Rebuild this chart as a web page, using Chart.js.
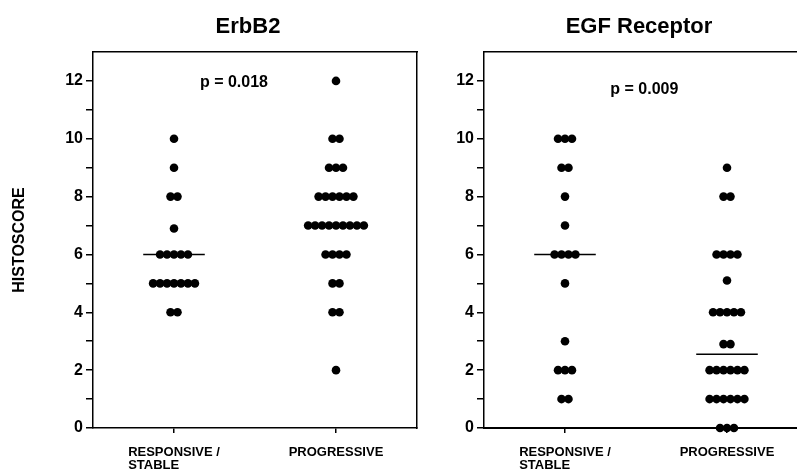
<!DOCTYPE html>
<html lang="en">
<head>
<meta charset="UTF-8">
<title>ErbB2 and EGF Receptor histoscores</title>
<script src="https://cdn.jsdelivr.net/npm/chart.js"></script>
<style>
    html, body { margin: 0; padding: 0; background: #fff; overflow: hidden; }
    body { width: 797px; height: 472px; position: relative; }
    canvas { position: absolute; top: 0; }
    #erbChart { left: 0; }
    #egfrChart { left: 440px; }
</style>
</head>
<body>
<canvas id="erbChart" width="440" height="472"></canvas>
<canvas id="egfrChart" width="380" height="472"></canvas>
<script>
// categories on the x axis
const categories = [['RESPONSIVE /', 'STABLE'], ['PROGRESSIVE']];

// histoscores, one value per patient
const erbResponsive = [10, 9, 8, 8, 6.9, 6, 6, 6, 6, 6, 5, 5, 5, 5, 5, 5, 5, 4, 4];
const erbProgressive = [12, 10, 10, 9, 9, 9, 8, 8, 8, 8, 8, 8,
    7, 7, 7, 7, 7, 7, 7, 7, 7, 6, 6, 6, 6, 5, 5, 4, 4, 2];
const egfrResponsive = [10, 10, 10, 9, 9, 8, 7, 6, 6, 6, 6, 5, 3, 2, 2, 2, 1, 1];
const egfrProgressive = [9, 8, 8, 6, 6, 6, 6, 5.1, 4, 4, 4, 4, 4, 2.9, 2.9,
    2, 2, 2, 2, 2, 2, 1, 1, 1, 1, 1, 1, 0, 0, 0];

// group medians (horizontal bars)
const erbMedians = [6, 7];
const egfrMedians = [6, 2.55];

const pLabels = ['p = 0.018', 'p = 0.009'];
const yTicks = [0, 1, 2, 3, 4, 5, 6, 7, 8, 9, 10, 11, 12];

const FONT = "'Liberation Sans', Arial, sans-serif";
const DOT_STEP = 0.043;   // horizontal spacing of tied dots, in category units
const MEDIAN_HALF = 0.19;

// spread tied values side by side around the category position
function dotPoints(values, cat) {
    const counts = new Map();
    values.forEach(v => counts.set(v, (counts.get(v) || 0) + 1));
    const pts = [];
    counts.forEach((n, v) => {
        for (let k = 0; k < n; k++) {
            pts.push({ x: cat + (k - (n - 1) / 2) * DOT_STEP, y: v });
        }
    });
    return pts;
}

const panelText = {
    id: 'panelText',
    afterDraw(chart, args, opts) {
        const { ctx, chartArea, scales } = chart;
        ctx.save();
        ctx.fillStyle = '#000';
        ctx.textBaseline = 'alphabetic';

        ctx.font = 'bold 22px ' + FONT;
        ctx.textAlign = 'center';
        ctx.fillText(opts.title, (chartArea.left + chartArea.right) / 2 - 7, 33);

        ctx.font = 'bold 16px ' + FONT;
        ctx.fillText(opts.p, scales.x.getPixelForValue(opts.pAt[0]), scales.y.getPixelForValue(opts.pAt[1]) + 6);

        // category labels: first line centred on the tick, others aligned to its start
        ctx.font = 'bold 13px ' + FONT;
        ctx.textAlign = 'left';
        categories.forEach((lines, i) => {
            const x = scales.x.getPixelForValue(i);
            const x0 = x - ctx.measureText(lines[0]).width / 2;
            lines.forEach((t, j) => ctx.fillText(t, x0, chartArea.bottom + 28 + j * 13));
        });
        ctx.restore();
    }
};

function makePanel(id, cfg) {
    const datasets = [];
    cfg.medians.forEach((m, i) => {
        datasets.push({
            type: 'line',
            data: [{ x: i - MEDIAN_HALF, y: m }, { x: i + MEDIAN_HALF, y: m }],
            borderColor: '#000',
            borderWidth: 1.5,
            pointRadius: 0,
            order: 2
        });
    });
    cfg.groups.forEach((g, i) => {
        datasets.push({
            type: 'scatter',
            data: dotPoints(g, i),
            backgroundColor: '#000',
            borderWidth: 0,
            pointRadius: 4.3,
            clip: false,
            order: 1
        });
    });

    const scales = {
        x: {
            type: 'linear', min: -0.5, max: 1.5, position: 'bottom',
            afterBuildTicks: s => { s.ticks = categories.map((c, i) => ({ value: i })); },
            afterFit: s => { s.height = 44; },
            ticks: { display: false },
            grid: { drawOnChartArea: false, tickLength: 5, color: '#000', lineWidth: 1.5 },
            border: { color: '#000', width: cfg.bottomWidth }
        },
        xTop: {
            type: 'linear', min: -0.5, max: 1.5, position: 'top',
            afterFit: s => { s.height = 0; },
            ticks: { display: false },
            grid: { display: false },
            border: { color: '#000', width: 1.5 }
        },
        y: {
            min: 0, max: 13, position: 'left',
            afterBuildTicks: s => { s.ticks = yTicks.map(v => ({ value: v })); },
            afterFit: s => { s.width = cfg.yWidth; },
            ticks: {
                callback: v => (v % 2 === 0 ? String(v) : ''),
                color: '#000',
                font: { family: FONT, size: 16, weight: 'bold' },
                padding: 3
            },
            grid: { drawOnChartArea: false, tickLength: 7, color: '#000', lineWidth: 1.5 },
            border: { color: '#000', width: 1.5 },
            title: {
                display: cfg.yTitle,
                text: 'HISTOSCORE',
                color: '#000',
                font: { family: FONT, size: 16, weight: 'bold' },
                padding: { top: 10, bottom: 0 }
            }
        }
    };
    if (cfg.rightBorder) {
        scales.yRight = {
            min: 0, max: 13, position: 'right',
            afterFit: s => { s.width = 0; },
            ticks: { display: false },
            grid: { display: false },
            border: { color: '#000', width: 1.5 }
        };
    }

    return new Chart(document.getElementById(id), {
        data: { datasets },
        options: {
            responsive: false,
            animation: false,
            events: [],
            layout: { padding: { top: 52, right: cfg.padRight, bottom: 0, left: 0 } },
            scales,
            plugins: {
                legend: { display: false },
                tooltip: { enabled: false },
                panelText: { title: cfg.title, p: cfg.p, pAt: cfg.pAt }
            }
        },
        plugins: [panelText]
    });
}

makePanel('erbChart', {
    title: 'ErbB2',
    groups: [erbResponsive, erbProgressive],
    medians: erbMedians,
    p: pLabels[0], pAt: [0.37, 12.0],
    yTitle: true, yWidth: 93, padRight: 23,
    rightBorder: true, bottomWidth: 1.5
});

makePanel('egfrChart', {
    title: 'EGF Receptor',
    groups: [egfrResponsive, egfrProgressive],
    medians: egfrMedians,
    p: pLabels[1], pAt: [0.49, 11.76],
    yTitle: false, yWidth: 44, padRight: 12,
    rightBorder: false, bottomWidth: 2
});
</script>
</body>
</html>
